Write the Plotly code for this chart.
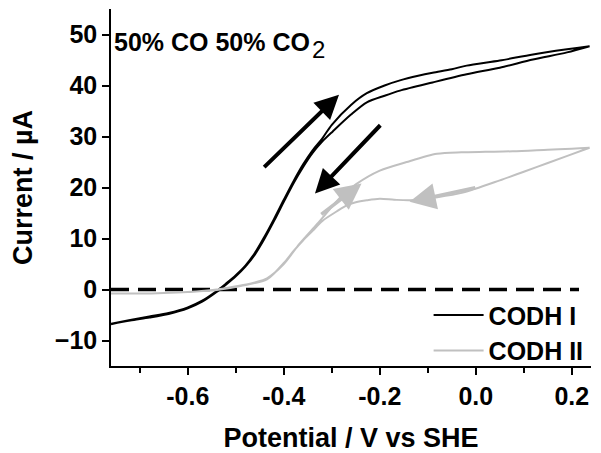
import plotly.graph_objects as go

# ---- data ----
# CODH I (black): forward sweep (negative -> positive), then reverse sweep
codh1_fwd_v = [-0.76, -0.72, -0.68, -0.64, -0.60, -0.57, -0.54, -0.52, -0.50, -0.48,
               -0.46, -0.44, -0.42, -0.40, -0.38, -0.36, -0.34, -0.32, -0.30, -0.26,
               -0.227, -0.19, -0.158, -0.12, -0.09, -0.05, -0.019, 0.05, 0.119, 0.19, 0.237]
codh1_fwd_i = [-6.7, -6.0, -5.3, -4.6, -3.5, -2.2, -0.3, 1.2, 2.8, 4.7,
               7.2, 10.4, 13.9, 17.6, 21.2, 24.5, 27.3, 29.6, 32.3, 36.2,
               38.5, 40.0, 41.0, 41.9, 42.5, 43.2, 43.9, 44.9, 46.1, 47.1, 47.7]
codh1_rev_v = [0.237, 0.19, 0.119, 0.05, -0.019, -0.09, -0.158, -0.19, -0.227, -0.26,
               -0.298, -0.32, -0.34, -0.36, -0.38, -0.40, -0.42, -0.44, -0.46, -0.48,
               -0.50, -0.52, -0.54, -0.57, -0.60, -0.64, -0.68, -0.72, -0.76]
codh1_rev_i = [47.7, 46.5, 45.1, 43.5, 42.2, 40.6, 39.0, 38.0, 36.7, 34.3,
               31.0, 29.0, 26.8, 24.0, 20.8, 17.2, 13.5, 10.0, 6.9, 4.5,
               2.6, 1.0, -0.5, -2.4, -3.7, -4.8, -5.5, -6.1, -6.8]

# CODH II (grey)
codh2_fwd_v = [-0.76, -0.70, -0.65, -0.60, -0.56, -0.54, -0.52, -0.49, -0.46, -0.435,
               -0.40, -0.367, -0.33, -0.30, -0.283, -0.25, -0.20, -0.144, -0.081,
               -0.03, 0.02, 0.077, 0.15, 0.20, 0.237]
codh2_fwd_i = [-0.8, -0.8, -0.7, -0.5, -0.2, 0.0, 0.3, 0.8, 1.4, 2.2,
               5.0, 9.0, 12.9, 16.2, 18.0, 20.6, 23.3, 25.0, 26.6,
               26.9, 27.0, 27.1, 27.4, 27.6, 27.8]
codh2_rev_v = [0.237, 0.15, 0.10, 0.05, -0.027, -0.08, -0.137, -0.17, -0.20, -0.227,
               -0.25, -0.269, -0.29, -0.319, -0.34, -0.36, -0.38, -0.40, -0.435,
               -0.49, -0.54, -0.60, -0.65, -0.70, -0.76]
codh2_rev_i = [27.8, 24.8, 23.1, 21.4, 19.0, 18.1, 17.5, 17.6, 17.8, 17.5,
               17.1, 16.5, 15.3, 13.5, 11.5, 9.6, 7.5, 5.2, 2.0,
               0.7, -0.1, -0.5, -0.7, -0.8, -0.8]

zero_v = [-0.76, 0.215]
zero_i = [0, 0]

x_ticks = [-0.6, -0.4, -0.2, 0.0, 0.2]
x_ticklabels = ["-0.6", "-0.4", "-0.2", "0.0", "0.2"]
y_ticks = [-10, 0, 10, 20, 30, 40, 50]

# arrows: (tail_v, tail_i, tip_v, tip_i)
black_arrows = [(-0.444, 23.7, -0.285, 38.2), (-0.196, 32.5, -0.335, 18.8)]
grey_arrows = [(-0.325, 14.5, -0.238, 20.8), (0.002, 20.0, -0.138, 17.2)]

BLACK = "#000000"
GREY = "#c0c0c0"
FONT = "Liberation Sans, Arial, sans-serif"

fig = go.Figure()
fig.add_trace(go.Scatter(x=zero_v, y=zero_i, mode="lines", showlegend=False,
                         line=dict(color=BLACK, width=3.5, dash="18px,9px"),
                         hoverinfo="skip"))
fig.add_trace(go.Scatter(x=codh1_fwd_v + codh1_rev_v, y=codh1_fwd_i + codh1_rev_i,
                         mode="lines", name="CODH I",
                         line=dict(color=BLACK, width=2, shape="spline", smoothing=0.8)))
fig.add_trace(go.Scatter(x=codh2_fwd_v + codh2_rev_v, y=codh2_fwd_i + codh2_rev_i,
                         mode="lines", name="CODH II",
                         line=dict(color=GREY, width=2, shape="spline", smoothing=0.8)))

for (tv, ti, hv, hi) in black_arrows:
    fig.add_annotation(x=hv, y=hi, ax=tv, ay=ti, xref="x", yref="y", axref="x", ayref="y",
                       showarrow=True, arrowhead=2, arrowsize=1.2, arrowwidth=4,
                       arrowcolor=BLACK, text="")
for (tv, ti, hv, hi) in grey_arrows:
    fig.add_annotation(x=hv, y=hi, ax=tv, ay=ti, xref="x", yref="y", axref="x", ayref="y",
                       showarrow=True, arrowhead=2, arrowsize=1.5, arrowwidth=3.5,
                       arrowcolor=GREY, text="")

fig.add_annotation(x=0.002, y=48.6, xref="paper", yref="y", xanchor="left", yanchor="middle",
                   showarrow=False, text="<b>50% CO 50% CO</b>",
                   font=dict(family=FONT, size=25, color=BLACK))
# large, regular-weight subscript "2" as drawn in the reference
fig.add_annotation(x=0.415, y=47.0, xref="paper", yref="y", xanchor="left", yanchor="middle",
                   showarrow=False, text="2",
                   font=dict(family=FONT, size=24, color=BLACK))

# the page body adds an 8px offset, so the figure is sized to fit inside the window
fig.update_layout(
    width=593, height=445,
    margin=dict(l=103, r=10, t=1, b=87),
    paper_bgcolor="white", plot_bgcolor="white",
    font=dict(family=FONT, color=BLACK),
    legend=dict(x=0.995, y=-0.02, xanchor="right", yanchor="bottom",
                bgcolor="rgba(0,0,0,0)", itemwidth=50, tracegroupgap=0,
                font=dict(family=FONT, size=25, color=BLACK, weight="bold")),
    xaxis=dict(range=[-0.76, 0.24], tickvals=x_ticks, ticktext=x_ticklabels,
               automargin=False,
               showgrid=False, zeroline=False, showline=True, linecolor=BLACK,
               linewidth=1.5, ticks="outside", ticklen=7, tickwidth=1.5, tickcolor=BLACK,
               minor=dict(dtick=0.2, tick0=-0.7, ticks="outside", ticklen=5,
                          tickwidth=1.5, tickcolor=BLACK, showgrid=False),
               tickfont=dict(family=FONT, size=25, color=BLACK, weight="bold"),
               title=dict(text="Potential / V vs SHE", standoff=20,
                          font=dict(family=FONT, size=27, color=BLACK, weight="bold"))),
    yaxis=dict(range=[-15, 55], tickvals=y_ticks, automargin=False,
               showgrid=False, zeroline=False, showline=True, linecolor=BLACK,
               linewidth=1.5, ticks="outside", ticklen=7, tickwidth=1.5, tickcolor=BLACK,
               tickfont=dict(family=FONT, size=25, color=BLACK, weight="bold"),
               title=dict(text="Current / µA", standoff=22,
                          font=dict(family=FONT, size=27, color=BLACK, weight="bold"))),
)

fig.write_html("out.html")
